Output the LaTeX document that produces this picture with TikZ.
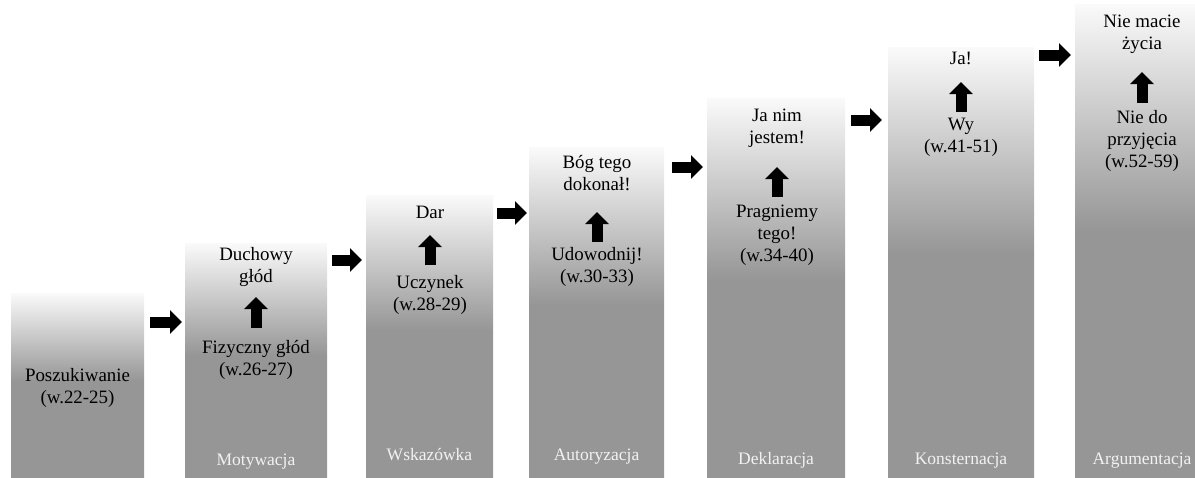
\documentclass[tikz,border=0pt]{standalone}
\usepackage{fontspec}
\setmainfont{Liberation Serif}
\usetikzlibrary{arrows.meta}

\definecolor{colgray}{RGB}{150,150,150}
\definecolor{coltop}{RGB}{250,250,250}
\definecolor{labwhite}{RGB}{242,242,242}
\pgfdeclareverticalshading{colshade}{100bp}{color(0bp)=(colgray); color(25bp)=(colgray); color(51bp)=(colgray); color(75bp)=(coltop); color(100bp)=(coltop)}

\tikzset{
	col/.style={shade, shading=colshade, inner sep=0pt, outer sep=0pt, anchor=south west},
	txt/.style={align=center, inner sep=0pt, font=\fontsize{18.9pt}{22pt}\selectfont},
	lab/.style={inner sep=0pt, anchor=base, text=labwhite, font=\fontsize{17.5pt}{20pt}\selectfont},
	flow/.style={line width=11pt, -{Triangle[width=23pt,length=12pt]}},
}

\begin{document}
\begin{tikzpicture}[x=1pt,y=-1pt]
		\useasboundingbox (0,0) rectangle (1195,477);
		
		\node[col, minimum width=133pt, minimum height=184pt] (c1) at (11,477) {};
		\node[col, minimum width=142pt, minimum height=234pt] (c2) at (185,477) {};
		\node[col, minimum width=127pt, minimum height=282pt] (c3) at (366,477) {};
		\node[col, minimum width=135pt, minimum height=330pt] (c4) at (529,477) {};
		\node[col, minimum width=138pt, minimum height=379pt] (c5) at (707,477) {};
		\node[col, minimum width=146pt, minimum height=430pt] (c6) at (888,477) {};
		\node[col, minimum width=134pt, minimum height=473pt] (c7) at (1075,477) {};
		
		\node[lab] (lmot) at ([yshift=12pt]c2.south) {Motywacja};
		\node[lab] (lwsk) at ([yshift=17pt]c3.south) {Wskazówka};
		\node[lab] (laut) at ([yshift=17pt]c4.south) {Autoryzacja};
		\node[lab] (ldek) at ([yshift=13pt]c5.south) {Deklaracja};
		\node[lab] (lkon) at ([yshift=13pt]c6.south) {Konsternacja};
		\node[lab] (larg) at ([yshift=13pt]c7.south) {Argumentacja};
		
		\node[txt] (posz) at (77.5,388) {Poszukiwanie\\(w.22-25)};
		\node[txt] (duch) at (256,267) {Duchowy\\głód};
		\node[txt] (fiz) at (256,360) {Fizyczny głód\\(w.26-27)};
		\node[txt] (dar) at (430,212) {Dar};
		\node[txt] (ucz) at (430,295) {Uczynek\\(w.28-29)};
		\node[txt] (bog) at (597,173) {Bóg tego\\dokonał!};
		\node[txt] (udow) at (597,267) {Udowodnij!\\(w.30-33)};
		\node[txt] (janim) at (777,128) {Ja nim\\jestem!};
		\node[txt] (prag) at (777,235) {Pragniemy\\tego!\\(w.34-40)};
		\node[txt] (ja) at (961,58) {Ja!};
		\node[txt] (wy) at (961,137) {Wy\\(w.41-51)};
		\node[txt] (nie) at (1142,34) {Nie macie\\życia};
		\node[txt] (niedo) at (1142,141) {Nie do\\przyjęcia\\(w.52-59)};
		
		% between the steps
		\draw[flow] ([xshift=6pt]c1.east |- 0,322) -- ([xshift=-3pt]c2.west |- 0,322);
		\draw[flow] ([xshift=5pt]c2.east |- 0,260) -- ([xshift=-4pt]c3.west |- 0,260);
		\draw[flow] ([xshift=4pt]c3.east |- 0,213) -- ([xshift=-2pt]c4.west |- 0,213);
		\draw[flow] ([xshift=8pt]c4.east |- 0,167) -- ([xshift=-4pt]c5.west |- 0,167);
		\draw[flow] ([xshift=6pt]c5.east |- 0,120) -- ([xshift=-6pt]c6.west |- 0,120);
		\draw[flow] ([xshift=5pt]c6.east |- 0,55) -- ([xshift=-4pt]c7.west |- 0,55);
		
		% inside the steps
		\draw[flow] (fiz.north |- 0,328) -- (duch.south |- 0,297);
		\draw[flow] (ucz.north |- 0,265) -- (dar.south |- 0,235);
		\draw[flow] (udow.north |- 0,242) -- (bog.south |- 0,212);
		\draw[flow] (prag.north |- 0,197) -- (janim.south |- 0,167);
		\draw[flow] (wy.north |- 0,112) -- (ja.south |- 0,82);
		\draw[flow] (niedo.north |- 0,103) -- (nie.south |- 0,72);
	\end{tikzpicture}
\end{document}
